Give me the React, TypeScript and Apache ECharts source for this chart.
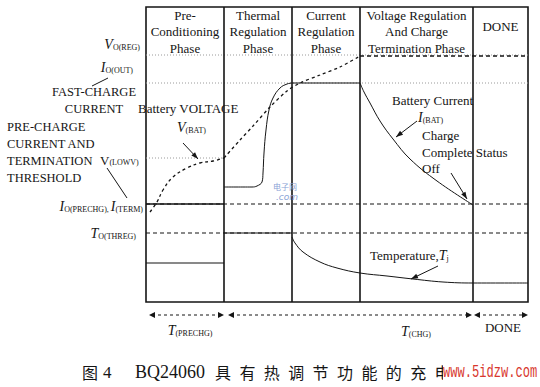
import React, { useEffect, useRef } from "react";
import * as echarts from "echarts";

// ---------- data ----------
const PHASES = [
  "Pre-\nConditioning\nPhase",
  "Thermal\nRegulation\nPhase",
  "Current\nRegulation\nPhase",
  "Voltage Regulation\nAnd Charge\nTermination Phase",
  "DONE",
];
const PHASE_BOUNDS = [0, 78, 146, 214, 327, 382];
const T_END = 382;
const Y_MAX = 295;

const V_REG = 247;
const I_OUT = 219;
const V_LOWV = 144;
const I_PRECHG = 98;
const T_THREG = 69;

const VOLT_PRE = [[4, 90], [11, 100], [17, 112], [27, 125], [41, 134], [54, 139], [67, 141], [78, 144]];
const VOLT_FAST = [[78, 144], [94, 162], [107, 176], [124, 195], [141, 211], [154, 219], [174, 227], [194, 235], [214, 246]];
const VOLT_CV = [[214, 246], [382, 246]];

const CURR_PRE = [[0, 98], [78, 98]];
const CURR_THERMAL = [[78, 115], [106, 115], [111, 116], [116, 120], [117, 129], [118, 149], [120, 172], [123, 192], [127, 204], [134, 214], [141, 218], [146, 219]];
const CURR_CC = [[146, 219], [214, 219]];
const CURR_CV = [[214, 219], [218, 210], [224, 199], [234, 181], [247, 163], [264, 143], [291, 121], [327, 97]];

const TEMP_PRE = [[0, 39], [78, 39]];
const TEMP_THERMAL = [[78, 69], [146, 69]];
const TEMP_COOL = [[146, 65], [149, 59], [157, 50], [174, 40], [191, 34], [214, 29], [241, 26], [267, 23], [297, 20], [327, 19], [382, 19]];

const CAPTION_CJK = "具有热调节功能的充电";

// ---------- styles ----------
const SERIF = "'Liberation Serif', 'Times New Roman', serif";
const INK = "#151515";

const RICH = {
  m: { fontFamily: SERIF, fontStyle: "italic", fontSize: 14, color: INK },
  u: { fontFamily: SERIF, fontSize: 13, color: INK },
  s: { fontFamily: SERIF, fontSize: 8, color: INK, verticalAlign: "bottom" },
};

function txt(x: number, y: number, text: string, extra: any = {}) {
  return {
    type: "text",
    x,
    y,
    z: 100,
    style: {
      text,
      fill: INK,
      fontFamily: SERIF,
      fontSize: 13,
      align: "left",
      verticalAlign: "middle",
      rich: RICH,
      ...extra,
    },
  };
}

function seg(x1: number, y1: number, x2: number, y2: number, dash?: number[]) {
  return {
    type: "line",
    z: 100,
    shape: { x1, y1, x2, y2 },
    style: { stroke: INK, lineWidth: 1, lineDash: dash || null },
  };
}

function head(xFrom: number, yFrom: number, xTip: number, yTip: number, len = 7, wid = 5) {
  const dx = xTip - xFrom;
  const dy = yTip - yFrom;
  const L = Math.hypot(dx, dy) || 1;
  const ux = dx / L;
  const uy = dy / L;
  const bx = xTip - ux * len;
  const by = yTip - uy * len;
  const px = -uy * (wid / 2);
  const py = ux * (wid / 2);
  return {
    type: "polygon",
    z: 100,
    shape: { points: [[xTip, yTip], [bx + px, by + py], [bx - px, by - py]] },
    style: { fill: INK },
  };
}

function arrow(x1: number, y1: number, x2: number, y2: number) {
  return [seg(x1, y1, x2, y2), head(x1, y1, x2, y2)];
}

function dblArrow(x1: number, x2: number, y: number) {
  return [
    seg(x1 + 3, y, x2 - 3, y, [3, 3]),
    head(x2, y, x1, y, 6, 6),
    head(x1, y, x2, y, 6, 6),
  ];
}

function lineSeries(data: number[][], style: any, smooth: number | boolean = false) {
  return {
    type: "line",
    data,
    smooth,
    symbol: "none",
    silent: true,
    lineStyle: { color: INK, width: 1, ...style },
  };
}

export default function App() {
  const ref = useRef<HTMLDivElement>(null);

  useEffect(() => {
    if (!ref.current) return;
    const chart = echarts.init(ref.current, undefined, { renderer: "svg" });

    const dotted = { color: "#9a9a9a", width: 1, type: [1, 2] };
    const dashedDark = { color: INK, width: 1.1, type: [4, 3] };

    const graphics: any[] = [
      // left labels
      txt(140, 44, "{m|V}{s|O(REG)}", { align: "right" }),
      txt(133, 67, "{m|I}{s|O(OUT)}", { align: "right" }),
      seg(92, 86, 108, 78),
      txt(94, 92, "FAST-CHARGE", { align: "center", fontSize: 12.5 }),
      txt(94, 109, "CURRENT", { align: "center", fontSize: 12.5 }),
      txt(7, 127, "PRE-CHARGE", { fontSize: 12.5 }),
      txt(7, 144, "CURRENT AND", { fontSize: 12.5 }),
      txt(7, 161, "TERMINATION", { fontSize: 12.5 }),
      txt(7, 178, "THRESHOLD", { fontSize: 12.5 }),
      txt(100, 160, "{u|V}{s|(LOWV)}"),
      seg(107, 168, 127, 198),
      txt(143, 206, "{m|I}{s|O(PRECHG), }{m|I}{s|(TERM)}", { align: "right" }),
      txt(136, 233, "{m|T}{s|O(THREG)}", { align: "right" }),
      // battery voltage
      txt(138, 108, "Battery VOLTAGE", { fontSize: 13 }),
      txt(177, 127, "{m|V}{s|(BAT)}"),
      ...arrow(183, 143, 198, 159),
      // battery current
      txt(392, 100, "Battery Current"),
      txt(418, 117, "{m|I}{s|(BAT)}"),
      ...arrow(417, 121, 396, 137),
      txt(422, 135, "Charge"),
      txt(422, 152, "Complete Status"),
      txt(422, 168, "Off"),
      ...arrow(451, 173, 467, 199),
      // temperature
      txt(370, 255, "{u|Temperature,}{m|T}{s|j}"),
      ...arrow(438, 266, 411, 279),
      // bottom time arrows
      ...dblArrow(149, 224, 315),
      ...dblArrow(228, 472, 315),
      ...dblArrow(474, 528, 315),
      txt(190, 330, "{m|T}{s|(PRECHG)}", { align: "center" }),
      txt(416, 331, "{m|T}{s|(CHG)}", { align: "center" }),
      txt(503, 327, "DONE", { align: "center" }),
      // watermark
      txt(273, 186, "电子网", { fill: "#8aa3d6", fontFamily: "'Noto Sans CJK SC'", fontSize: 8 }),
      txt(276, 197, ".com", { fill: "#8aa3d6", fontStyle: "italic", fontFamily: "'DejaVu Sans'", fontSize: 9 }),
      // caption
      txt(82, 372, "图", { fontFamily: "'Noto Sans CJK SC'", fontSize: 16 }),
      txt(103, 372, "4", { fontSize: 17 }),
      txt(135, 372, "BQ24060", { fontSize: 18 }),
      ...CAPTION_CJK.split("").map((ch, i) =>
        txt(215 + i * 24.4, 372, ch, { fontFamily: "'Noto Sans CJK SC'", fontSize: 16 })
      ),
      {
        type: "text",
        x: 443,
        y: 372,
        z: 110,
        scaleX: 0.93,
        scaleY: 1.4,
        style: {
          text: "www.5idzw.com",
          fill: "#d8372e",
          fontFamily: "'Liberation Mono', monospace",
          fontSize: 13,
          align: "left",
          verticalAlign: "middle",
          backgroundColor: "#ffffff",
          padding: [1, 0, 1, 0],
        },
      },
    ];

    chart.setOption({
      animation: false,
      backgroundColor: "#ffffff",
      grid: {
        left: 146,
        top: 7,
        right: 12,
        bottom: 85,
        show: true,
        borderColor: INK,
        borderWidth: 1.6,
        backgroundColor: "transparent",
      },
      xAxis: { type: "value", min: 0, max: T_END, show: false },
      yAxis: { type: "value", min: 0, max: Y_MAX, show: false },
      series: [
        {
          ...lineSeries([[0, V_REG], [T_END, V_REG]], dotted),
          markLine: {
            silent: true,
            symbol: ["none", "none"],
            label: { show: false },
            lineStyle: { color: INK, width: 1.6, type: "solid" },
            data: PHASE_BOUNDS.slice(1, -1).map((x) => ({ xAxis: x })),
          },
          markArea: {
            silent: true,
            itemStyle: { color: "transparent" },
            label: {
              position: "insideTop",
              distance: 0,
              color: INK,
              fontFamily: SERIF,
              fontSize: 13,
              lineHeight: 16.5,
            },
            data: PHASES.map((name, i) => [
              {
                name,
                xAxis: PHASE_BOUNDS[i],
                yAxis: Y_MAX,
                label: name === "DONE" ? { padding: [11, 0, 0, 0] } : {},
              },
              { xAxis: PHASE_BOUNDS[i + 1], yAxis: 0 },
            ]),
          },
        },
        lineSeries([[0, I_OUT], [T_END, I_OUT]], dotted),
        lineSeries([[0, V_LOWV], [PHASE_BOUNDS[1], V_LOWV]], dotted),
        lineSeries([[0, I_PRECHG], [T_END, I_PRECHG]], dashedDark),
        lineSeries([[0, T_THREG], [T_END, T_THREG]], dashedDark),
        // battery voltage
        lineSeries(VOLT_PRE, { width: 1.3, type: [3, 3] }, 0.4),
        lineSeries(VOLT_FAST, { width: 1.3, type: [3, 3] }, 0.3),
        lineSeries(VOLT_CV, { width: 1.3, type: [4, 3] }),
        // battery current
        lineSeries(CURR_PRE, { width: 1.3 }),
        lineSeries(CURR_THERMAL, { width: 1 }, 0.4),
        lineSeries(CURR_CC, { width: 1.2 }),
        lineSeries(CURR_CV, { width: 1 }, 0.4),
        // temperature
        lineSeries(TEMP_PRE, { width: 1.2 }),
        lineSeries(TEMP_THERMAL, { width: 1.2 }),
        lineSeries(TEMP_COOL, { width: 1 }, 0.4),
      ],
      graphic: { elements: graphics },
    });

    return () => chart.dispose();
  }, []);

  return (
    <div
      ref={ref}
      style={{ position: "absolute", left: 0, top: 0, width: 540, height: 387, background: "#fff" }}
    />
  );
}
